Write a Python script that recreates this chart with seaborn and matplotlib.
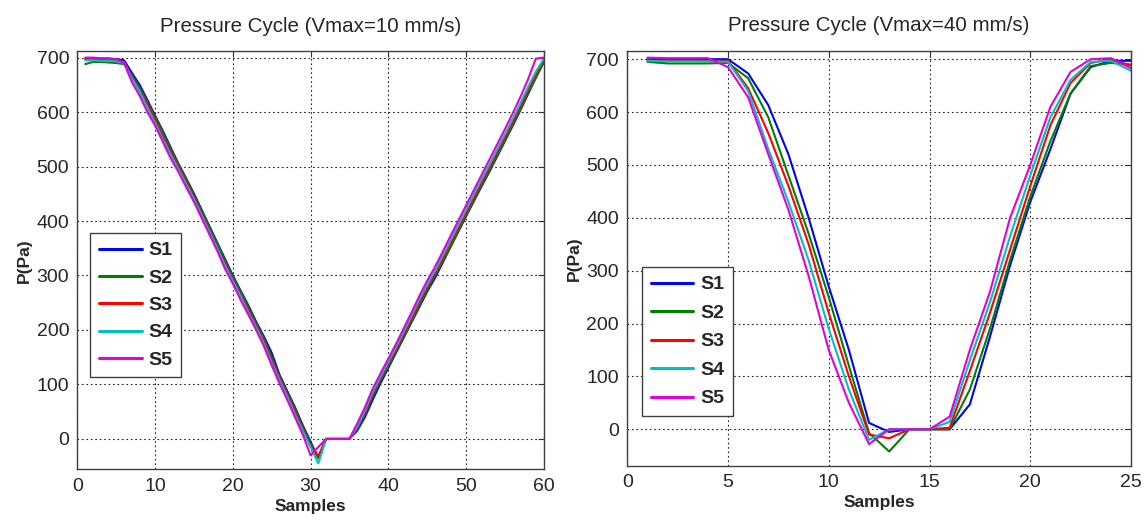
import numpy as np
import pandas as pd
import matplotlib
matplotlib.use("Agg")
import matplotlib.pyplot as plt
import seaborn as sns

# --- data ---
names = ["S1", "S2", "S3", "S4", "S5"]
colors = ["#0000ff", "#008000", "#ff0000", "#00c0c0", "#e000e0"]

# Vmax = 10 mm/s, samples 1..60
x10 = list(range(1, 61))
s1_10 = [697, 697, 697, 697, 697, 695,
         672, 650, 622, 593, 565, 535, 505, 478, 450, 420, 390, 360, 330, 300,
         272, 245, 215, 188, 158, 118, 88, 58, 25, -5, -35,
         0, 0, 0, 0,
         15, 40, 72, 102, 130, 158, 186, 214, 242, 270, 295, 323, 352, 380, 408,
         436, 463, 490, 518, 546, 574, 603, 633, 663, 693]
s2_10 = [688, 692, 692, 691, 690, 688,
         668, 645, 618, 590, 562, 532, 503, 476, 447, 418, 388, 358, 327, 297,
         270, 242, 212, 185, 150, 115, 85, 55, 22, -8, -35,
         0, 0, 0, 0,
         18, 45, 78, 107, 133, 160, 188, 216, 245, 273, 300, 325, 352, 381, 410,
         437, 465, 492, 520, 548, 576, 605, 635, 663, 690]
s3_10 = [697, 697, 696, 696, 695, 692,
         665, 640, 615, 585, 555, 527, 500, 472, 443, 413, 383, 352, 322, 293,
         265, 237, 208, 180, 145, 112, 82, 50, 18, -12, -32,
         0, 0, 0, 0,
         20, 48, 82, 110, 137, 163, 192, 220, 250, 278, 303, 330, 358, 386, 414,
         442, 470, 497, 525, 553, 581, 610, 640, 668, 697]
s4_10 = [695, 695, 694, 694, 693, 690,
         662, 638, 608, 580, 550, 522, 495, 468, 440, 410, 380, 350, 318, 290,
         262, 232, 205, 175, 140, 108, 78, 45, 15, -15, -45,
         0, 0, 0, 0,
         22, 52, 86, 114, 141, 168, 197, 226, 256, 283, 308, 336, 364, 392, 420,
         448, 476, 503, 531, 559, 587, 616, 646, 674, 697]
s5_10 = [700, 700, 699, 699, 697, 690,
         655, 630, 600, 575, 545, 515, 490, 462, 435, 405, 375, 345, 312, 285,
         255, 228, 200, 170, 135, 102, 72, 40, 8, -30, -15,
         0, 0, 0, 0,
         28, 58, 92, 120, 147, 174, 203, 232, 262, 290, 315, 343, 372, 400, 428,
         456, 484, 512, 540, 568, 597, 627, 660, 698, 700]

# Vmax = 40 mm/s, samples 1..25
x40 = list(range(1, 26))
s1_40 = [700, 700, 700, 700, 700, 673, 613, 520, 400, 270, 150, 12, -5,
         0, 0, 0, 47, 175, 310, 430, 530, 635, 685, 697, 697]
s2_40 = [695, 692, 692, 692, 693, 664, 590, 480, 370, 250, 120, -7, -42,
         0, 0, 0, 75, 190, 320, 440, 545, 635, 687, 693, 690]
s3_40 = [697, 697, 697, 697, 697, 645, 560, 460, 350, 220, 100, -10, -17,
         0, 0, 3, 110, 220, 340, 460, 575, 655, 693, 700, 688]
s4_40 = [697, 696, 696, 696, 695, 640, 530, 430, 320, 190, 75, -20, 0,
         0, 0, 14, 130, 240, 365, 480, 590, 661, 695, 697, 678]
s5_40 = [703, 702, 702, 702, 685, 628, 520, 415, 290, 150, 50, -28, 0,
         0, 0, 24, 150, 260, 400, 500, 610, 676, 700, 702, 683]


def long_df(x, series):
    rows = []
    for name, vals in zip(names, series):
        rows.append(pd.DataFrame({"Samples": x, "P": vals, "series": name}))
    return pd.concat(rows, ignore_index=True)


df10 = long_df(x10, [s1_10, s2_10, s3_10, s4_10, s5_10])
df40 = long_df(x40, [s1_40, s2_40, s3_40, s4_40, s5_40])

sns.set_style("white")
plt.rcParams["font.family"] = ["Liberation Sans", "DejaVu Sans"]

fig = plt.figure(figsize=(11.48, 5.21), dpi=100)
ax1 = fig.add_axes([0.0675, 0.099, 0.406, 0.803])
ax2 = fig.add_axes([0.5464, 0.106, 0.4388, 0.7966])

pal = dict(zip(names, colors))
panels = [
    (ax1, df10, "Pressure Cycle (Vmax=10 mm/s)", (0, 60), (-56, 712), [0, 10, 20, 30, 40, 50, 60], (0.027, 0.565), 0.5),
    (ax2, df40, "Pressure Cycle (Vmax=40 mm/s)", (0, 25), (-69, 716), [0, 5, 10, 15, 20, 25], (0.029, 0.479), 0.56),
]

for ax, df, title, xl, yl, xt, anchor, lsp in panels:
    sns.lineplot(data=df, x="Samples", y="P", hue="series", palette=pal,
                 linewidth=1.5, ax=ax, estimator=None, sort=False)
    ax.set_xlim(*xl)
    ax.set_ylim(*yl)
    ax.set_xticks(xt)
    ax.set_yticks([0, 100, 200, 300, 400, 500, 600, 700])
    ax.grid(True, color="#222222", linestyle=(0, (1.5, 2.5)), linewidth=0.8)
    ax.tick_params(direction="in", top=True, right=True, labelsize=14,
                   length=4, color="#333333", pad=6)
    for sp in ax.spines.values():
        sp.set_color("#404040")
        sp.set_linewidth(1.0)
    ax.set_title(title, fontsize=14.8, pad=14)
    ax.set_xlabel("Samples", fontsize=12.5, fontweight="bold", labelpad=3)
    ax.set_ylabel("P(Pa)", fontsize=12.5, fontweight="bold", labelpad=3)
    leg = ax.legend(loc="upper left", bbox_to_anchor=anchor,
                    prop={"weight": "bold", "size": 14}, handlelength=2.2,
                    handletextpad=0.35, labelspacing=lsp, borderpad=0.45,
                    borderaxespad=0, fancybox=False, framealpha=1)
    leg.get_frame().set_edgecolor("#404040")
    leg.get_frame().set_linewidth(1.0)
    for h in leg.get_lines():
        h.set_linewidth(2.2)

fig.savefig("out.png", dpi=100)
